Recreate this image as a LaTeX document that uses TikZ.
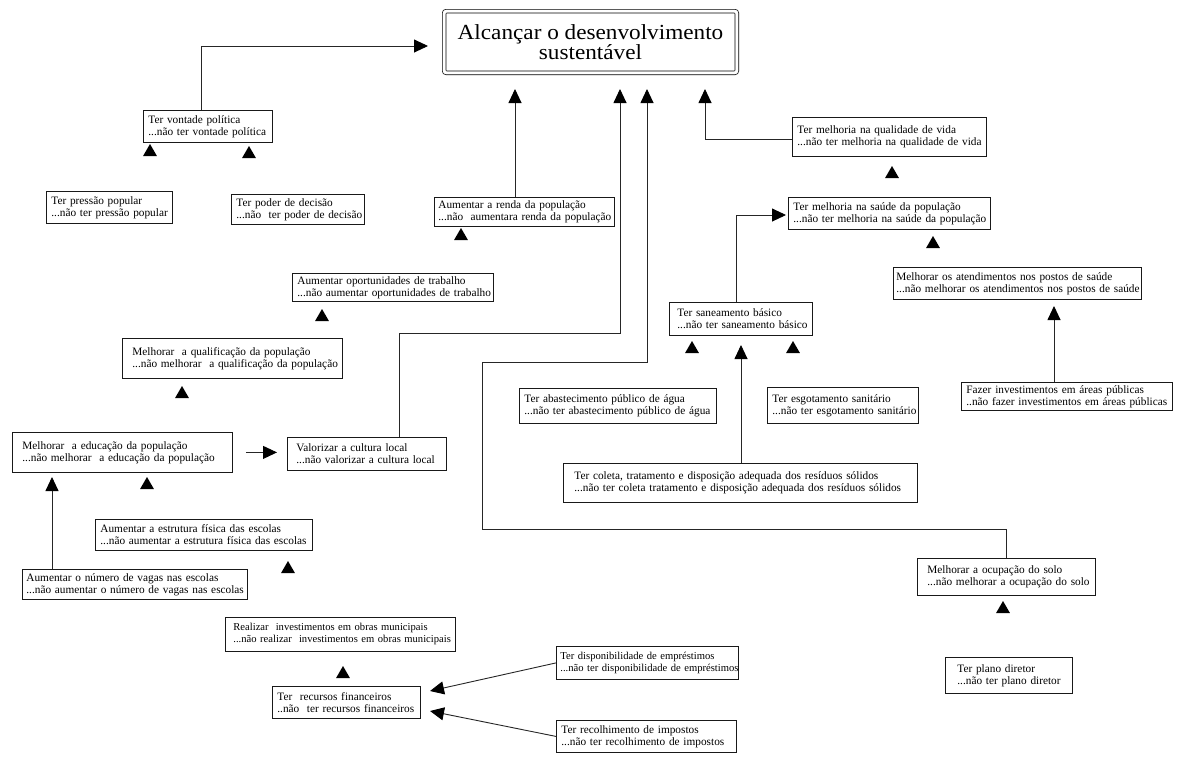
\documentclass[tikz,border=0pt]{standalone}
\usepackage{fontspec}
\setmainfont{Liberation Serif}
\newfontfamily\titlefont{Liberation Serif}[FakeStretch=1.08]
\usetikzlibrary{arrows.meta,shapes.geometric}
% two left-aligned lines with a left indent (in pt)
\newcommand\twoln[3]{\hspace*{#1pt}\mbox{#2}\\\hspace*{#1pt}\mbox{#3}}
\begin{document}
\begin{tikzpicture}[x=1pt,y=-1pt,
  box/.style={draw=black!90, line width=0.8pt, inner sep=0pt, align=left,
    anchor=north west, font=\fontsize{11.3}{12}\selectfont},
  smalltext/.style={font=\fontsize{10.6}{12}\selectfont},
  goal/.style={draw=black, double, double distance=3pt, line width=0.7pt,
    rounded corners=2pt, minimum width=292.6pt, minimum height=61.6pt,
    inner sep=0pt, align=center, font={\titlefont\fontsize{21.5}{20}\selectfont}},
  conn/.style={draw=black!85, line width=0.9pt,
    -{Triangle[width=13pt,length=14pt,color=black]}},
  tri/.style={regular polygon, regular polygon sides=3, fill=black,
    inner sep=0pt, minimum size=16pt}]
\useasboundingbox (0,0) rectangle (1177,756);

% goal
\node[goal] (goal) at (590.5,42) {Alcançar o desenvolvimento\\sustentável};

% factor boxes
\node[box, text width=129pt, minimum height=32pt] (vontade) at (143,110)
  {\twoln{5}{Ter vontade política}{...não ter vontade política}};
\node[box, text width=126pt, minimum height=32pt] (pressao) at (46,191)
  {\twoln{5}{Ter pressão popular}{...não ter pressão popular}};
\node[box, text width=133pt, minimum height=30pt] (poder) at (231,194)
  {\twoln{5}{Ter poder de decisão}{...não~ ter poder de decisão}};
\node[box, text width=180pt, minimum height=29pt] (renda) at (434,197)
  {\twoln{4}{Aumentar a renda da população}{...não~ aumentara renda da população}};
\node[box, text width=194pt, minimum height=39pt] (qualidade) at (792,117)
  {\twoln{5}{Ter melhoria na qualidade de vida}{...não ter melhoria na qualidade de vida}};
\node[box, text width=202pt, minimum height=32pt] (saude) at (788,197)
  {\twoln{5}{Ter melhoria na saúde da população}{...não ter melhoria na saúde da população}};
\node[box, text width=248pt, minimum height=32pt] (atendimentos) at (893,267)
  {\twoln{3}{Melhorar os atendimentos nos postos de saúde}{...não melhorar os atendimentos nos postos de saúde}};
\node[box, text width=201pt, minimum height=28pt] (oportunidades) at (292,273)
  {\twoln{5}{Aumentar oportunidades de trabalho}{...não aumentar oportunidades de trabalho}};
\node[box, text width=220pt, minimum height=40pt] (qualificacao) at (122,338)
  {\twoln{10}{Melhorar~ a qualificação da população}{...não melhorar~ a qualificação da população}};
\node[box, text width=220pt, minimum height=40pt] (educacao) at (12,432)
  {\twoln{10}{Melhorar~ a educação da população}{...não melhorar~ a educação da população}};
\node[box, text width=159pt, minimum height=33pt] (valorizar) at (287,437)
  {\twoln{9}{Valorizar a cultura local}{...não valorizar a cultura local}};
\node[box, text width=143pt, minimum height=33pt] (saneamento) at (669,302)
  {\twoln{8}{Ter saneamento básico}{...não ter saneamento básico}};
\node[box, text width=197pt, minimum height=35pt] (abastecimento) at (519,388)
  {\twoln{5}{Ter abastecimento público de água}{...não ter abastecimento público de água}};
\node[box, text width=151pt, minimum height=36pt] (esgotamento) at (767,387)
  {\twoln{5}{Ter esgotamento sanitário}{...não ter esgotamento sanitário}};
\node[box, text width=354pt, minimum height=39pt] (residuos) at (563,463)
  {\twoln{11}{Ter coleta, tratamento e disposição adequada dos resíduos sólidos}{...não ter coleta tratamento e disposição adequada dos resíduos sólidos}};
\node[box, text width=211pt, minimum height=28pt] (fazer) at (961,382)
  {\twoln{5}{Fazer investimentos em áreas públicas}{..não fazer investimentos em áreas públicas}};
\node[box, text width=217pt, minimum height=31pt] (estrutura) at (95,519)
  {\twoln{5}{Aumentar a estrutura física das escolas}{...não aumentar a estrutura física das escolas}};
\node[box, text width=225pt, minimum height=30pt] (vagas) at (22,569)
  {\twoln{4}{Aumentar o número de vagas nas escolas}{...não aumentar o número de vagas nas escolas}};
\node[box, text width=178pt, minimum height=37pt] (ocupacao) at (917,558)
  {\twoln{10}{Melhorar a ocupação do solo}{...não melhorar a ocupação do solo}};
\node[box, text width=127pt, minimum height=36pt] (plano) at (945,657)
  {\twoln{12}{Ter plano diretor}{...não ter plano diretor}};
\node[box, smalltext, text width=230pt, minimum height=34pt] (realizar) at (225,617)
  {\twoln{8}{Realizar~ investimentos em obras municipais}{...não realizar~ investimentos em obras municipais}};
\node[box, text width=148pt, minimum height=32pt] (recursos) at (272,686)
  {\twoln{5}{Ter~ recursos financeiros}{..não~ ter recursos financeiros}};
\node[box, smalltext, text width=182pt, minimum height=33pt] (emprestimos) at (556,646)
  {\twoln{4}{Ter disponibilidade de empréstimos}{...não ter disponibilidade de empréstimos}};
\node[box, text width=180pt, minimum height=32pt] (impostos) at (556,720)
  {\twoln{5}{Ter recolhimento de impostos}{...não ter recolhimento de impostos}};

% connectors towards the goal
\coordinate (vbend) at (201,46);
\coordinate (vtip) at (428,46);
\draw[conn] (vontade.north -| vbend) -- (vbend) -- (vtip);

\coordinate (tipR) at (515,89);
\draw[conn] (renda.north -| tipR) -- (tipR);

\coordinate (tipV) at (620,89);
\coordinate (bendV) at (399,333);
\draw[conn] (valorizar.north -| bendV) -- (bendV) -| (tipV);

\coordinate (tipO) at (647,89);
\coordinate (bendO1) at (1006,529);
\coordinate (bendO2) at (482,362);
\draw[conn] (ocupacao.north -| bendO1) -- (bendO1) -| (bendO2) -| (tipO);

\coordinate (tipQ) at (705,89);
\coordinate (bendQ) at (705,139);
\draw[conn] (qualidade.west |- bendQ) -- (bendQ) -- (tipQ);

% other connectors
\coordinate (tipS) at (786,215);
\coordinate (bendS) at (736,215);
\draw[conn] (saneamento.north -| bendS) -- (bendS) -- (tipS);

\coordinate (tipN) at (741,345);
\draw[conn] (residuos.north -| tipN) -- (tipN);

\coordinate (tipA) at (1054,306);
\draw[conn] (fazer.north -| tipA) -- (tipA);

\coordinate (tipE) at (52,477);
\draw[conn] (vagas.north -| tipE) -- (tipE);

\draw[conn, shorten <=13pt, shorten >=10pt] (educacao.east) -- (educacao.east -| valorizar.west);

\coordinate (finTipA) at (430,691);
\coordinate (finTipB) at (430,711);
\draw[conn] (emprestimos.west) -- (finTipA);
\draw[conn] (impostos.west) -- (finTipB);

% loose arrowheads
\node[tri] (t1) at (150,152) {};
\node[tri] (t2) at (249,154) {};
\node[tri] (t3) at (461,236) {};
\node[tri] (t4) at (892,174) {};
\node[tri] (t5) at (933,244) {};
\node[tri] (t6) at (322,317) {};
\node[tri] (t7) at (182,394) {};
\node[tri] (t8) at (147,485) {};
\node[tri] (t9) at (692,349) {};
\node[tri] (t10) at (793,349) {};
\node[tri] (t11) at (288,569) {};
\node[tri] (t12) at (1003,609) {};
\node[tri] (t13) at (343,674) {};
\end{tikzpicture}
\end{document}
